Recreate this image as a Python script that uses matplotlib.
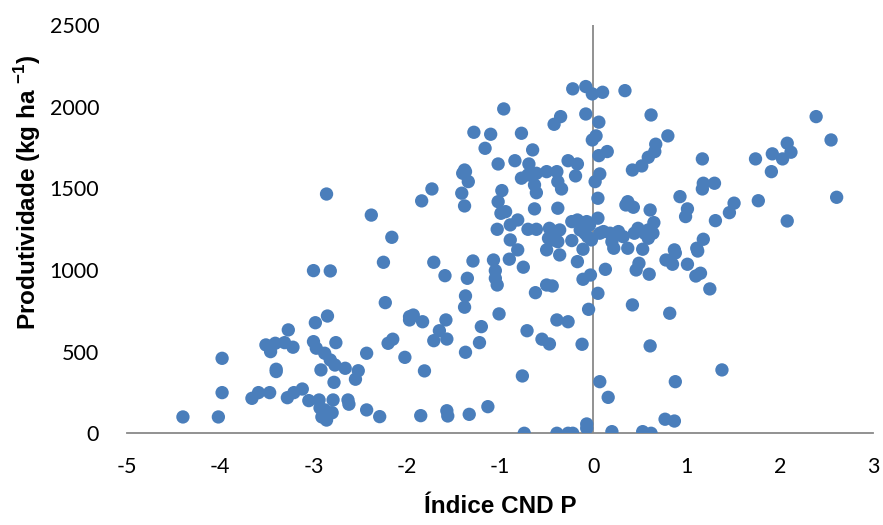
import matplotlib
matplotlib.use("Agg")
import matplotlib.pyplot as plt

# Índice CND P (x) and Produtividade (kg/ha) (y)
cnd_p = [
    -4.40, -4.02, -3.98, -3.98, -3.66, -3.59, -3.47, -3.51, -3.41, -3.46,
    -3.31, -3.22, -3.27, -3.40, -3.40, -3.28, -3.21, -3.12, -3.05, -2.98,
    -3.00, -2.97, -2.88, -2.82, -2.77, -2.76, -2.92, -2.78, -2.94, -2.79,
    -2.93, -2.88, -2.82, -2.91, -2.86, -2.86, -3.00, -2.82, -2.85,
    -2.43, -2.66, -2.52, -2.55, -2.63, -2.62, -2.80, -2.43, -2.29, -2.20,
    -2.15, -2.02, -1.97, -1.83, -1.81, -1.85, -1.65, -1.71, -1.57, -1.58,
    -1.57, -1.56, -1.33, -1.37, -1.22, -1.20, -1.13,
    -0.71, -0.55, -0.47, -0.39, -0.27, -0.12, -0.76, -0.74, -0.39, -0.27,
    -0.22, -0.07, -0.07, 0.07, 0.16, 0.20, 0.61, 0.53, 0.62, 0.77,
    0.87, 0.88, 1.38,
    -2.38, -2.16, -2.25, -2.23, -1.97, -1.93, -1.84, -1.73, -1.71, -1.59,
    -1.41, -1.38, -1.40, -1.37, -1.34, -1.29, -1.35, -1.37, -1.38,
    -1.07, -1.05, -1.05, -1.03, -1.01, -1.03, -0.98, -1.02, -0.99, -0.94,
    -0.89, -0.89, -0.90,
    -0.77, -0.70, -0.61, -0.50, -0.39, -0.63, -0.61, -0.38, -0.34, -0.19,
    -0.63, -0.38, -0.81, -0.70, -0.61, -0.81, -0.75, -0.47, -0.41, -0.36,
    -0.48, -0.43, -0.38, -0.50, -0.36, -0.23, -0.23, -0.17, -0.13, -0.07,
    -0.04, 0.05, -0.14, -0.09, -0.06, -0.02, -0.11, -0.17, 0.07, 0.11,
    0.18, 0.20, 0.22, 0.27, 0.32, 0.37, 0.44, 0.48, 0.55, 0.59,
    0.64, 0.59, 0.65, 0.53, 0.35, 0.37, 0.43, 0.61, 0.93, 0.87,
    0.78, 0.85, 0.46, 0.49, 0.60, 0.13, 0.05, 0.02, 0.07, -0.11,
    -0.03, -0.50, -0.44, -0.62, 0.05, -0.05, 0.42, 0.82,
    1.91, 1.18, 1.30, 1.17, 1.01, 0.99, 1.51, 1.46, 1.31, 1.77,
    2.61, 2.08, 1.18, 0.88, 1.11, 1.12, 1.01, 1.10, 1.15, 1.25,
    -0.96, -1.28, -1.10, -1.16, -1.02, -1.38, -0.77, -0.65, -0.84, -0.69,
    -0.27, -0.17, -0.22, -0.08, -0.01, 0.10, 0.34, -0.08, 0.06, -0.35,
    -0.42, 0.03, -0.01, 0.06, 0.15, 0.62, 0.80, 0.67, 0.66, 0.59,
    0.52, 0.42,
    1.17, 1.74, 1.92, 2.03, 2.12, 2.08, 2.39, 2.55,
]

produtividade = [
    100, 100, 459, 249, 214, 249, 249, 541, 551, 500,
    555, 527, 633, 392, 378, 218, 249, 271, 200, 677,
    561, 521, 490, 449, 418, 555, 388, 312, 204, 204,
    155, 143, 124, 100, 81, 1465, 996, 994, 718,
    490, 398, 383, 331, 204, 178, 126, 143, 102, 551,
    576, 465, 694, 683, 382, 108, 628, 567, 577, 694,
    138, 106, 116, 496, 555, 653, 163,
    628, 576, 547, 694, 683, 545, 351, 0, 0, 0,
    0, 57, 31, 316, 220, 10, 535, 10, 0, 86,
    75, 316, 388,
    1336, 1200, 1047, 800, 714, 724, 1423, 1496, 1047, 965,
    1470, 1392, 1592, 1602, 1541, 1055, 949, 841, 772,
    1061, 996, 949, 908, 731, 1249, 1486, 1418, 1347, 1357,
    1276, 1184, 1066,
    1562, 1582, 1592, 1602, 1602, 1521, 1473, 1541, 1496, 1576,
    1374, 1378, 1306, 1249, 1249, 1123, 1017, 1255, 1235, 1245,
    1194, 1184, 1173, 1123, 1092, 1180, 1296, 1306, 1286, 1296,
    1276, 1317, 1245, 1225, 1204, 1184, 1127, 1051, 1225, 1235,
    1225, 1173, 1133, 1235, 1204, 1133, 1225, 1255, 1225, 1245,
    1225, 1194, 1290, 1127, 1398, 1418, 1384, 1367, 1449, 1123,
    1061, 1035, 1000, 1041, 974, 1004, 1439, 1541, 1588, 943,
    969, 908, 902, 861, 857, 759, 786, 735,
    1602, 1531, 1531, 1496, 1374, 1327, 1409, 1351, 1302, 1424,
    1445, 1300, 1188, 1104, 1133, 1116, 1035, 963, 980, 884,
    1986, 1843, 1831, 1745, 1649, 1612, 1837, 1735, 1669, 1649,
    1669, 1649, 2109, 2123, 2078, 2088, 2098, 1955, 1905, 1939,
    1892, 1821, 1796, 1700, 1725, 1949, 1821, 1770, 1725, 1690,
    1637, 1612,
    1680, 1680, 1711, 1680, 1721, 1776, 1939, 1796,
]

x_ticks = [-5, -4, -3, -2, -1, 0, 1, 2, 3]
y_ticks = [0, 500, 1000, 1500, 2000, 2500]

plt.rcParams['mathtext.fontset'] = 'custom'
plt.rcParams['mathtext.bf'] = 'Liberation Sans:bold'
plt.rcParams['mathtext.rm'] = 'Liberation Sans:bold'

fig = plt.figure(figsize=(8.83, 5.25), dpi=100)
ax = fig.add_axes([0.1438, 0.1747, 0.8449, 0.7777])

ax.scatter(cnd_p, produtividade, s=92, color='#4A7EBB', edgecolors='none',
           zorder=3)

ax.set_xlim(-5, 3)
ax.set_ylim(0, 2500)
ax.set_xticks(x_ticks)
ax.set_yticks(y_ticks)
ax.set_xticklabels([str(t) for t in x_ticks])
ax.set_yticklabels([str(t) for t in y_ticks])

for s in ['top', 'right', 'left']:
    ax.spines[s].set_visible(False)
ax.spines['bottom'].set_color('#898989')
ax.spines['bottom'].set_linewidth(1.3)
ax.spines['bottom'].set_zorder(1)
ax.axvline(0, color='#898989', linewidth=1.3, zorder=1)

ax.tick_params(axis='x', length=0, pad=17, labelsize=15.5, colors='#000000')
ax.tick_params(axis='y', length=0, pad=20, labelsize=15.5, colors='#000000')
for lab in ax.get_xticklabels() + ax.get_yticklabels():
    lab.set_fontfamily('Lato')

ax.set_xlabel('Índice CND P', fontsize=17.5, fontweight='bold',
              fontfamily='Liberation Sans')
ax.xaxis.set_label_coords(0.5, -0.152)
ax.set_ylabel(r'Produtividade (kg ha $^{\mathbf{-1}}$)', fontsize=17.5,
              fontweight='bold', fontfamily='Liberation Sans')
ax.yaxis.set_label_coords(-0.112, 0.59)

fig.savefig('out.png', dpi=100)
